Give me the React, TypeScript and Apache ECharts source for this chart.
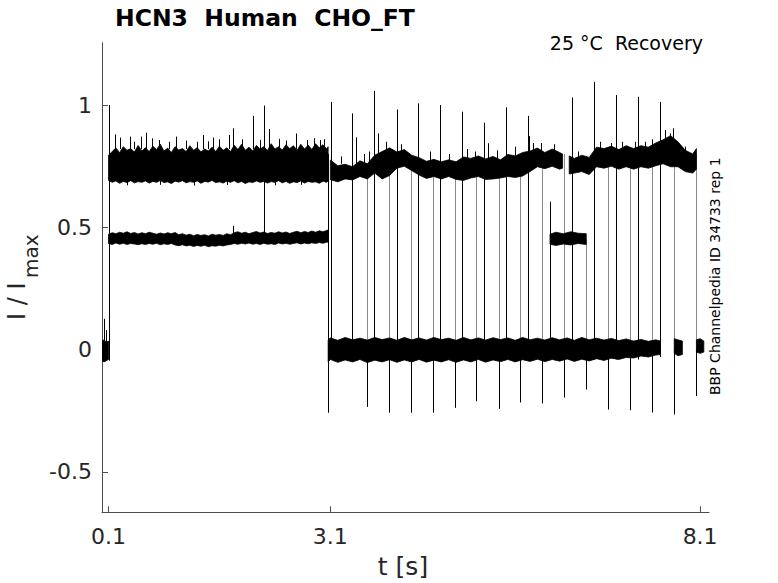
import React, { useEffect, useRef } from "react";
import * as echarts from "echarts";

// ---------- texts ----------
const TITLE = "HCN3  Human  CHO_FT";
const SUBTITLE = "25 \u00B0C  Recovery";
const SIDE_NOTE = "BBP Channelpedia ID 34733 rep 1";
const X_NAME = "t [s]";
const Y_NAME_MAIN = "I / I";
const Y_NAME_SUB = "max";

// ---------- axes ----------
const X_MIN = 0.012;
const X_MAX = 8.22;
const Y_MIN = -0.665;
const Y_MAX = 1.255;
const X_TICKS = [0.1, 3.1, 8.1];
const Y_TICKS = [-0.5, 0, 0.5, 1];

// ---------- noisy bands (envelopes) ----------
// pre-pulse baseline
const BASE0_T = [0.012, 0.04, 0.07, 0.1];
const BASE0_HI = [0.035, 0.04, 0.03, 0.035];
const BASE0_LO = [-0.045, -0.05, -0.045, -0.04];

// first pulse (0.1 - 3.07 s)
const BAND_A_T = [
  0.1, 0.15, 0.2, 0.25, 0.3, 0.35, 0.4, 0.45, 0.5, 0.55,
  0.6, 0.65, 0.7, 0.75, 0.8, 0.85, 0.9, 0.95, 1.0, 1.05,
  1.1, 1.15, 1.2, 1.25, 1.3, 1.35, 1.4, 1.45, 1.5, 1.55,
  1.6, 1.65, 1.7, 1.75, 1.8, 1.85, 1.9, 1.95, 2.0, 2.05,
  2.1, 2.15, 2.2, 2.25, 2.3, 2.35, 2.4, 2.45, 2.5, 2.55,
  2.6, 2.65, 2.7, 2.75, 2.8, 2.85, 2.9, 2.95, 3.0, 3.05,
  3.07,
];
const UPPER_A_HI = [
  0.795, 0.81, 0.825, 0.805, 0.83, 0.815, 0.822, 0.808, 0.835, 0.812,
  0.826, 0.81, 0.832, 0.818, 0.84, 0.812, 0.824, 0.806, 0.83, 0.816,
  0.822, 0.81, 0.834, 0.815, 0.826, 0.808, 0.82, 0.812, 0.828, 0.81,
  0.832, 0.815, 0.825, 0.81, 0.836, 0.818, 0.84, 0.815, 0.828, 0.812,
  0.835, 0.82, 0.83, 0.814, 0.842, 0.82, 0.83, 0.816, 0.838, 0.822,
  0.834, 0.815, 0.84, 0.82, 0.836, 0.818, 0.842, 0.825, 0.838, 0.82,
  0.83,
];
const UPPER_A_LO = [
  0.692, 0.684, 0.69, 0.68, 0.688, 0.683, 0.691, 0.682, 0.687, 0.684,
  0.69, 0.681, 0.688, 0.684, 0.692, 0.683, 0.686, 0.679, 0.689, 0.685,
  0.691, 0.682, 0.687, 0.684, 0.69, 0.68, 0.688, 0.685, 0.692, 0.683,
  0.686, 0.681, 0.689, 0.684, 0.691, 0.682, 0.688, 0.679, 0.686, 0.683,
  0.69, 0.684, 0.688, 0.681, 0.687, 0.684, 0.691, 0.682, 0.688, 0.68,
  0.686, 0.683, 0.69, 0.681, 0.688, 0.684, 0.686, 0.68, 0.689, 0.684,
  0.69,
];
const MID_A_HI = [
  0.472, 0.478, 0.474, 0.48, 0.476, 0.482, 0.475, 0.479, 0.473, 0.478,
  0.474, 0.48, 0.476, 0.472, 0.477, 0.473, 0.478, 0.474, 0.479, 0.47,
  0.474, 0.468, 0.472, 0.466, 0.471, 0.467, 0.47, 0.465, 0.472, 0.468,
  0.471, 0.467, 0.474, 0.47, 0.478, 0.482, 0.476, 0.48, 0.474, 0.479,
  0.483, 0.477, 0.481, 0.475, 0.479, 0.476, 0.482, 0.477, 0.481, 0.475,
  0.48, 0.484, 0.478, 0.483, 0.479, 0.485, 0.48, 0.486, 0.482, 0.487,
  0.49,
];
const MID_A_LO = [
  0.434, 0.43, 0.436, 0.431, 0.435, 0.43, 0.434, 0.432, 0.429, 0.433,
  0.43, 0.434, 0.431, 0.435, 0.429, 0.433, 0.43, 0.434, 0.428, 0.425,
  0.429, 0.424, 0.427, 0.422, 0.426, 0.423, 0.427, 0.421, 0.425, 0.423,
  0.427, 0.424, 0.428, 0.43, 0.434, 0.431, 0.435, 0.432, 0.436, 0.431,
  0.434, 0.43, 0.435, 0.431, 0.433, 0.43, 0.436, 0.432, 0.435, 0.431,
  0.434, 0.437, 0.432, 0.436, 0.433, 0.437, 0.434, 0.438, 0.435, 0.439,
  0.44,
];

// second pulse, upper trace (split by a short gap)
const BAND_B1_T = [3.1, 3.2, 3.3, 3.4, 3.5, 3.6, 3.7, 3.8, 3.9, 4.0, 4.1, 4.2, 4.3, 4.4, 4.5, 4.6, 4.7, 4.8, 4.9, 5.0, 5.1, 5.2, 5.3, 5.4, 5.5, 5.6, 5.7, 5.8, 5.9, 6.0, 6.1, 6.2, 6.24];
const UPPER_B1_HI = [0.775, 0.752, 0.758, 0.748, 0.772, 0.76, 0.795, 0.81, 0.825, 0.808, 0.818, 0.795, 0.785, 0.77, 0.778, 0.768, 0.776, 0.768, 0.788, 0.782, 0.792, 0.78, 0.79, 0.776, 0.798, 0.792, 0.806, 0.812, 0.824, 0.806, 0.82, 0.806, 0.8];
const UPPER_B1_LO = [0.695, 0.686, 0.698, 0.694, 0.708, 0.698, 0.722, 0.698, 0.712, 0.742, 0.75, 0.732, 0.714, 0.7, 0.708, 0.698, 0.708, 0.696, 0.692, 0.702, 0.708, 0.696, 0.698, 0.702, 0.708, 0.704, 0.71, 0.728, 0.748, 0.74, 0.75, 0.738, 0.742];
const BAND_B2_T = [6.33, 6.4, 6.5, 6.6, 6.7, 6.8, 6.9, 7.0, 7.1, 7.2, 7.3, 7.4, 7.5, 7.6, 7.7, 7.8, 7.9, 8.0, 8.05];
const UPPER_B2_HI = [0.792, 0.782, 0.795, 0.786, 0.828, 0.822, 0.832, 0.818, 0.834, 0.822, 0.834, 0.828, 0.845, 0.858, 0.875, 0.85, 0.815, 0.8, 0.822];
const UPPER_B2_LO = [0.718, 0.722, 0.728, 0.716, 0.748, 0.742, 0.75, 0.738, 0.748, 0.738, 0.748, 0.742, 0.752, 0.76, 0.748, 0.748, 0.728, 0.722, 0.738];

// second pulse, short mid-level trace
const MID_B_T = [6.07, 6.15, 6.25, 6.35, 6.45, 6.56];
const MID_B_HI = [0.472, 0.48, 0.474, 0.482, 0.476, 0.474];
const MID_B_LO = [0.431, 0.426, 0.432, 0.428, 0.434, 0.43];

// zero-current traces
const ZERO_T = [3.07, 3.1, 3.2, 3.3, 3.4, 3.5, 3.6, 3.7, 3.8, 3.9, 4.0, 4.1, 4.2, 4.3, 4.4, 4.5, 4.6, 4.7, 4.8, 4.9, 5.0, 5.1, 5.2, 5.3, 5.4, 5.5, 5.6, 5.7, 5.8, 5.9, 6.0, 6.1, 6.2, 6.3, 6.4, 6.5, 6.6, 6.7, 6.8, 6.9, 7.0, 7.1, 7.2, 7.3, 7.4, 7.5, 7.56];
const ZERO_HI = [0.04, 0.048, 0.038, 0.05, 0.04, 0.047, 0.039, 0.05, 0.041, 0.048, 0.038, 0.05, 0.04, 0.048, 0.039, 0.05, 0.041, 0.047, 0.038, 0.05, 0.04, 0.048, 0.039, 0.049, 0.041, 0.048, 0.038, 0.05, 0.04, 0.047, 0.039, 0.049, 0.04, 0.048, 0.038, 0.05, 0.04, 0.047, 0.039, 0.046, 0.037, 0.044, 0.035, 0.042, 0.034, 0.04, 0.035];
const ZERO_LO = [-0.05, -0.04, -0.052, -0.042, -0.05, -0.04, -0.053, -0.043, -0.05, -0.041, -0.052, -0.042, -0.05, -0.04, -0.051, -0.043, -0.05, -0.041, -0.052, -0.042, -0.05, -0.04, -0.051, -0.042, -0.049, -0.04, -0.05, -0.041, -0.048, -0.039, -0.049, -0.04, -0.047, -0.038, -0.048, -0.039, -0.046, -0.037, -0.044, -0.035, -0.04, -0.032, -0.034, -0.026, -0.03, -0.022, -0.02];
const ZERO_S1_T = [7.75, 7.8, 7.86];
const ZERO_S1_HI = [0.045, 0.04, 0.035];
const ZERO_S1_LO = [-0.015, -0.025, -0.02];
const ZERO_S2_T = [8.05, 8.1, 8.15];
const ZERO_S2_HI = [0.04, 0.045, 0.035];
const ZERO_S2_LO = [-0.01, -0.015, -0.01];

// ---------- vertical transients ----------
// steps up from the zero trace (black)
const UP_T = [3.103, 3.395, 3.692, 3.995, 4.286, 4.584, 4.881, 5.178, 5.476, 5.769, 6.066, 6.368, 6.665, 6.958, 7.259, 7.557];
const UP_TOP = [1.013, 0.966, 1.058, 0.982, 1.007, 1.0, 0.973, 0.928, 0.991, 0.956, 0.605, 1.031, 1.095, 1.041, 1.034, 1.013];
const UP_BASE = [-0.04, -0.04, -0.04, -0.04, -0.04, -0.04, -0.04, -0.04, -0.04, -0.04, -0.04, -0.04, -0.04, -0.04, -0.04, -0.03];

// steps down to the zero trace (grey part above zero, black undershoot below)
const DOWN_T = [3.589, 3.89, 4.184, 4.485, 4.782, 5.076, 5.377, 5.67, 5.968, 6.259, 6.562, 6.854, 7.157, 7.454, 7.746, 8.049];
const DOWN_FROM = [0.74, 0.78, 0.76, 0.74, 0.74, 0.72, 0.74, 0.74, 0.76, 0.8, 0.45, 0.78, 0.79, 0.8, 0.8, 0.8];
const DOWN_ZERO = [0, 0, 0, 0, 0, 0, 0, 0, 0, 0, 0, 0, 0, 0, 0, 0];
const DOWN_BOTTOM = [-0.234, -0.258, -0.258, -0.258, -0.238, -0.211, -0.242, -0.216, -0.22, -0.196, -0.163, -0.245, -0.248, -0.257, -0.265, -0.19];

// other black transients: pulse on/off edges and noise spikes
const SPIKE_T = [
  0.1, 3.07, 2.205, 0.039, 0.06,
  0.188, 0.255, 0.39, 0.535, 0.607, 0.684, 0.787, 1.012, 1.292, 1.373, 1.516, 1.732, 1.786, 2.049, 2.269, 2.634, 2.778, 2.958,
  0.45, 0.92, 1.15, 1.45, 1.6, 1.9, 2.15, 2.4, 2.5, 2.88, 3.02,
  0.35, 0.8, 1.25, 1.7, 2.35, 2.7,
  1.78,
  3.445, 3.746, 5.232, 5.787, 5.84, 6.9, 7.215, 7.62, 7.688, 7.733, 7.82,
  3.25, 3.55, 3.62, 3.85, 4.05, 4.45, 4.7, 4.95, 5.05, 5.35, 5.6, 5.95, 6.12, 6.45, 6.75, 7.05, 7.35, 7.45, 7.9,
];
const SPIKE_BASE = [
  -0.045, -0.258, 0.45, 0.0, 0.0,
  0.82, 0.82, 0.82, 0.82, 0.82, 0.82, 0.82, 0.82, 0.82, 0.82, 0.82, 0.82, 0.82, 0.82, 0.82, 0.82, 0.82, 0.82,
  0.82, 0.82, 0.82, 0.82, 0.82, 0.82, 0.82, 0.82, 0.82, 0.82, 0.82,
  0.69, 0.69, 0.69, 0.69, 0.69, 0.69,
  0.47,
  0.76, 0.8, 0.78, 0.8, 0.8, 0.82, 0.82, 0.84, 0.84, 0.84, 0.82,
  0.76, 0.76, 0.76, 0.8, 0.8, 0.77, 0.77, 0.78, 0.78, 0.78, 0.79, 0.8, 0.8, 0.78, 0.82, 0.82, 0.82, 0.82, 0.8,
];
const SPIKE_PEAK = [
  1.0, 0.8, 0.998, 0.126, 0.08,
  0.88, 0.867, 0.871, 0.871, 0.887, 0.864, 0.857, 0.871, 0.85, 0.878, 0.867, 0.878, 0.905, 0.956, 0.902, 0.884, 0.857, 0.857,
  0.85, 0.85, 0.855, 0.852, 0.86, 0.86, 0.858, 0.862, 0.855, 0.865, 0.86,
  0.672, 0.674, 0.671, 0.673, 0.672, 0.674,
  0.506,
  0.868, 0.884, 0.844, 0.873, 0.845, 0.845, 0.85, 0.898, 0.884, 0.905, 0.84,
  0.79, 0.8, 0.81, 0.85, 0.84, 0.81, 0.8, 0.82, 0.81, 0.815, 0.83, 0.845, 0.84, 0.81, 0.85, 0.85, 0.85, 0.86, 0.83,
];

const FONT = '"DejaVu Sans", "Noto Sans", sans-serif';

function bandSeries(t: number[], hi: number[], lo: number[]) {
  const data = t.map((x, i) => [x, lo[i], hi[i]]);
  return {
    type: "custom",
    clip: true,
    silent: true,
    data,
    encode: { x: 0, y: [1, 2] },
    renderItem: (params: any, api: any) => {
      if (params.dataIndex !== 0) return null;
      const top = t.map((x, i) => api.coord([x, hi[i]]));
      const bot = t.map((x, i) => api.coord([x, lo[i]])).reverse();
      return {
        type: "polygon",
        shape: { points: top.concat(bot) },
        style: { fill: "#000", stroke: "#000", lineWidth: 0.8 },
      };
    },
  };
}

function segSeries(t: number[], from: number[], to: number[], color: string) {
  const data = t.map((x, i) => [x, from[i], to[i]]);
  return {
    type: "custom",
    clip: true,
    silent: true,
    data,
    encode: { x: 0, y: [1, 2] },
    renderItem: (params: any, api: any) => {
      const a = api.coord([api.value(0), api.value(1)]);
      const b = api.coord([api.value(0), api.value(2)]);
      const x = Math.round(a[0]) + 0.5;
      return {
        type: "line",
        shape: { x1: x, y1: a[1], x2: x, y2: b[1] },
        style: { stroke: color, lineWidth: 1 },
      };
    },
  };
}

export default function App() {
  const ref = useRef<HTMLDivElement>(null);

  useEffect(() => {
    if (!ref.current) return;
    const chart = echarts.init(ref.current, null, { renderer: "svg" });
    const axisColor = "#4d4d4d";
    const labelColor = "#262626";
    chart.setOption({
      animation: false,
      backgroundColor: "#fff",
      grid: { left: 102, right: 69, top: 42.7, bottom: 70.7, containLabel: false },
      xAxis: {
        type: "value",
        min: X_MIN,
        max: X_MAX,
        splitLine: { show: false },
        axisLine: { show: true, onZero: false, lineStyle: { color: axisColor, width: 1 } },
        axisTick: { show: true, inside: true, length: 6, customValues: X_TICKS, lineStyle: { color: axisColor } },
        axisLabel: {
          customValues: X_TICKS,
          fontSize: 22,
          fontFamily: FONT,
          color: labelColor,
          margin: 13,
          formatter: (v: number) => String(v),
        },
      },
      yAxis: {
        type: "value",
        min: Y_MIN,
        max: Y_MAX,
        splitLine: { show: false },
        axisLine: { show: true, onZero: false, lineStyle: { color: axisColor, width: 1 } },
        axisTick: { show: true, inside: true, length: 6, customValues: Y_TICKS, lineStyle: { color: axisColor } },
        axisLabel: {
          customValues: Y_TICKS,
          fontSize: 22,
          fontFamily: FONT,
          color: labelColor,
          margin: 10,
          formatter: (v: number) => String(v),
        },
      },
      graphic: [
        {
          type: "text",
          x: 115,
          y: 17.5,
          style: { text: TITLE, font: `bold 23.5px ${FONT}`, fill: "#000", align: "left", verticalAlign: "middle" },
        },
        {
          type: "text",
          x: 703,
          y: 42.5,
          style: { text: SUBTITLE, font: `19px ${FONT}`, fill: "#000", align: "right", verticalAlign: "middle" },
        },
        {
          type: "text",
          x: 16.5,
          y: 320,
          rotation: Math.PI / 2,
          style: { text: Y_NAME_MAIN, font: `24px ${FONT}`, fill: labelColor, align: "left", verticalAlign: "middle" },
        },
        {
          type: "text",
          x: 31,
          y: 278,
          rotation: Math.PI / 2,
          style: { text: Y_NAME_SUB, font: `20px ${FONT}`, fill: labelColor, align: "left", verticalAlign: "middle" },
        },
        {
          type: "text",
          x: 403,
          y: 566,
          style: { text: X_NAME, font: `25px ${FONT}`, fill: labelColor, align: "center", verticalAlign: "middle" },
        },
        {
          type: "text",
          x: 715,
          y: 395,
          rotation: Math.PI / 2,
          style: { text: SIDE_NOTE, font: `14px ${FONT}`, fill: "#000", align: "left", verticalAlign: "middle" },
        },
      ],
      series: [
        segSeries(DOWN_T, DOWN_FROM, DOWN_ZERO, "#8a8a8a"),
        bandSeries(BASE0_T, BASE0_HI, BASE0_LO),
        bandSeries(BAND_A_T, UPPER_A_HI, UPPER_A_LO),
        bandSeries(BAND_A_T, MID_A_HI, MID_A_LO),
        bandSeries(BAND_B1_T, UPPER_B1_HI, UPPER_B1_LO),
        bandSeries(BAND_B2_T, UPPER_B2_HI, UPPER_B2_LO),
        bandSeries(MID_B_T, MID_B_HI, MID_B_LO),
        bandSeries(ZERO_T, ZERO_HI, ZERO_LO),
        bandSeries(ZERO_S1_T, ZERO_S1_HI, ZERO_S1_LO),
        bandSeries(ZERO_S2_T, ZERO_S2_HI, ZERO_S2_LO),
        segSeries(DOWN_T, DOWN_ZERO, DOWN_BOTTOM, "#000"),
        segSeries(UP_T, UP_BASE, UP_TOP, "#000"),
        segSeries(SPIKE_T, SPIKE_BASE, SPIKE_PEAK, "#000"),
      ],
    });
    return () => chart.dispose();
  }, []);

  return (
    <div
      ref={ref}
      style={{ position: "fixed", left: 0, top: 0, width: 778, height: 583, background: "#fff" }}
    />
  );
}
